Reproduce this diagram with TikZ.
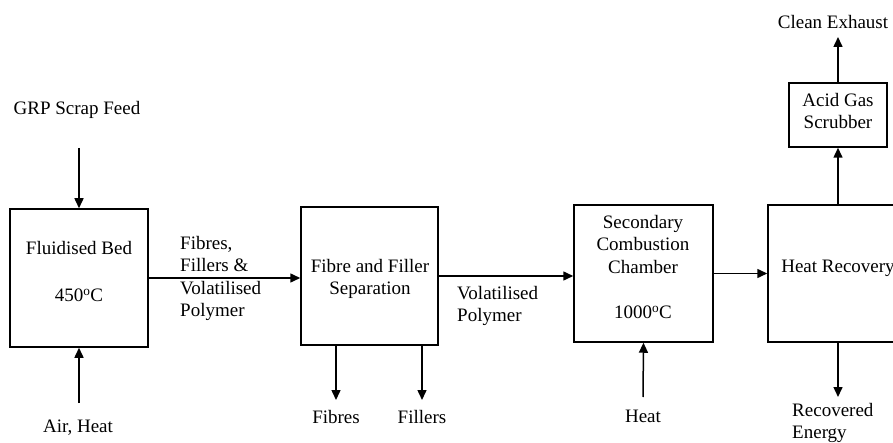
\documentclass[tikz,border=0pt]{standalone}
\usepackage{fontspec}
\setmainfont{Liberation Serif}
\usetikzlibrary{arrows.meta}
\begin{document}
\begin{tikzpicture}[x=1pt,y=-1pt,
  every node/.style={font=\fontsize{19}{22.5}\selectfont, inner sep=0pt},
  blk/.style={draw, line width=1.5pt, minimum width=#1, inner sep=0pt},
  flow/.style={-{Triangle[length=10pt,width=9pt]}, line width=1.5pt},
  txt/.style={align=center, anchor=north},
  ltxt/.style={align=left, anchor=north west}]
\clip (0,0) rectangle (893,443);
\useasboundingbox (0,0) rectangle (893,443);
% boxes
\node[blk=138pt, minimum height=138pt] (bed) at (79,278) {};
\node[blk=137pt, minimum height=138pt] (sep) at (369.5,276) {};
\node[blk=139pt, minimum height=137pt] (scc) at (643.5,273.5) {};
\node[blk=140pt, minimum height=137pt] (hr) at (838,273.5) {};
\node[blk=98pt, minimum height=64pt] (scr) at (838,115) {};
% box texts
\node[txt] (bedt) at (79,241) {Fluidised Bed\\[25pt]450\textsuperscript{o}C};
\node[txt] (sept) at (370,259) {Fibre and Filler\\Separation};
\node[txt] (scct) at (643,215) {Secondary\\Combustion\\Chamber\\[23pt]1000\textsuperscript{o}C};
\node[txt] (hrt) at (838,260) {Heat Recovery};
\node[txt] (scrt) at (838,93) {Acid Gas\\Scrubber};
% external labels
\node[txt] (grp) at (77,101) {GRP Scrap Feed};
\node[txt] (air) at (78,420) {Air, Heat};
\node[ltxt] (ffv) at (180,236) {Fibres,\\Fillers \&\\Volatilised\\Polymer};
\node[ltxt] (vp) at (457,286) {Volatilised\\Polymer};
\node[txt] (fib) at (336,410) {Fibres};
\node[txt] (fil) at (422,410) {Fillers};
\node[txt] (heat) at (643,410) {Heat};
\node[txt] (ce) at (833,15) {Clean Exhaust};
\node[ltxt] (re) at (792,403) {Recovered\\Energy};
% connector end points
\coordinate (grpe) at (79,148);
\coordinate (aire) at (79,403);
\coordinate (fibe) at (336,400);
\coordinate (file) at (422,400);
\coordinate (heate) at (643,397);
\coordinate (cee) at (838,37);
\coordinate (ree) at (838,397);
% connectors
\draw[flow] (grpe) -- (bed.north);
\draw[flow] (aire) -- (bed.south);
\draw[flow] (bed.east) -- (sep.west |- bed.east);
\draw[flow] (sep.east) -- (scc.west |- sep.east);
\draw[flow] (sep.south -| fibe) -- (fibe);
\draw[flow] (sep.south -| file) -- (file);
\draw[flow] (heate) -- (scc.south);
\draw[flow] (scc.east) -- (hr.west |- scc.east);
\draw[flow] (hr.north) -- (scr.south);
\draw[flow] (scr.north) -- (cee);
\draw[flow] (hr.south) -- (ree);
\end{tikzpicture}
\end{document}
